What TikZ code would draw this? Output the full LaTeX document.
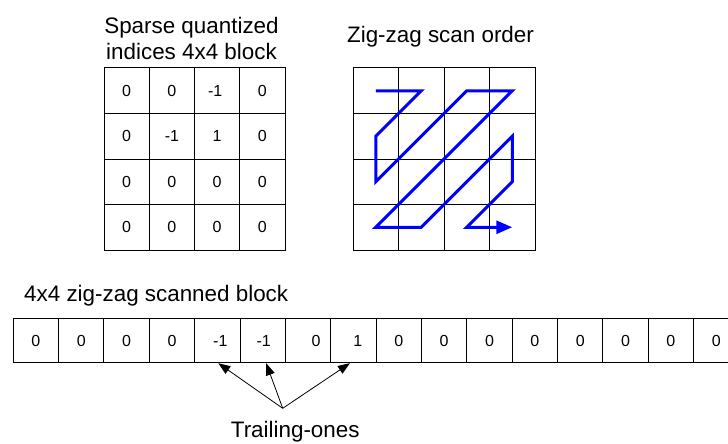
\documentclass[tikz,border=0pt]{standalone}
\usepackage{fontspec}
\setmainfont{Liberation Sans}
\usetikzlibrary{arrows.meta}
\begin{document}
\begin{tikzpicture}[x=1pt,y=-1pt,
  cell/.style={draw=black, line width=1pt, inner sep=0pt},
  lcell/.style={cell, minimum width=45.25pt, minimum height=45.5pt},
  zcell/.style={cell, minimum width=45.5pt, minimum height=45.5pt},
  bcell/.style={cell, minimum width=45.36pt, minimum height=44.4pt},
  celltext/.style={inner sep=0pt, font=\fontsize{16}{19}\selectfont},
  title/.style={font=\fontsize{22.4}{26}\selectfont, inner sep=0pt, align=center},
  zz/.style={draw=blue, line width=3pt, line join=miter},
  ptr/.style={draw=black, line width=0.8pt, -{Triangle[length=12pt,width=9pt]}}]
\useasboundingbox (0,0) rectangle (728,444);

% titles
\node[title, anchor=north] (tq) at (191.5,16.7) {Sparse quantized\\indices 4x4 block};
\node[title, anchor=base] (tz) at (440.5,43) {Zig-zag scan order};
\node[title, anchor=base west] (tb) at (24,301.5) {4x4 zig-zag scanned block};

% left grid: quantized indices
\foreach \r/\va/\vb/\vc/\vd/\dc in {1/0/0/-1/0/-2, 2/0/-1/1/0/0, 3/0/0/0/0/0, 4/0/0/0/0/0}{
  \foreach \v [count=\c] in {\va,\vb,\vc,\vd}{
    \node[lcell] (L-\r-\c) at ({104+45.25*(\c-0.5)},{68+45.5*(\r-0.5)}) {};
  }
  \node[celltext] (l-\r-1) at (L-\r-1.center) {\va};
  \node[celltext] (l-\r-2) at (L-\r-2.center) {\vb};
  \node[celltext] (l-\r-3) at ([xshift=\dc pt]L-\r-3.center) {\vc};
  \node[celltext] (l-\r-4) at (L-\r-4.center) {\vd};
}

% right grid: zig-zag scan order
\foreach \r in {1,...,4}{
  \foreach \c in {1,...,4}{
    \node[zcell] (Z-\r-\c) at ({353+45.5*(\c-0.5)},{68+45.5*(\r-0.5)}) {};
  }
}
\draw[zz, -{Triangle[length=16pt,width=13pt]}]
  (Z-1-1.center) -- (Z-1-2.center) -- (Z-2-1.center) -- (Z-3-1.center)
  -- (Z-1-3.center) -- (Z-1-4.center) -- (Z-4-1.center) -- (Z-4-2.center)
  -- (Z-2-4.center) -- (Z-3-4.center) -- (Z-4-3.center) -- (Z-4-4.center);

% bottom row: scanned block
\foreach \v/\dx [count=\c] in {0/0,0/0,0/0,0/0,-1/3,-1/1,0/8,1/4.5,0/0,0/0,0/0,0/0,0/0,0/0,0/0,0/0}{
  \node[bcell] (B-\c) at ({13.2+45.36*(\c-0.5)},340.5) {};
  \node[celltext] (b-\c) at ({13.2+45.36*(\c-0.5)+\dx},340.5) {\v};
}

% trailing ones
\node[title, anchor=base west] (tl) at (230.7,437.5) {Trailing-ones};
\coordinate (T) at (282.7,408.3);
\draw[ptr] (T) -- ([xshift=1pt]B-5.south);
\draw[ptr] (T) -- ([xshift=3.5pt]B-6.south);
\draw[ptr] (T) -- ([xshift=-3.5pt]B-8.south);
\end{tikzpicture}
\end{document}
